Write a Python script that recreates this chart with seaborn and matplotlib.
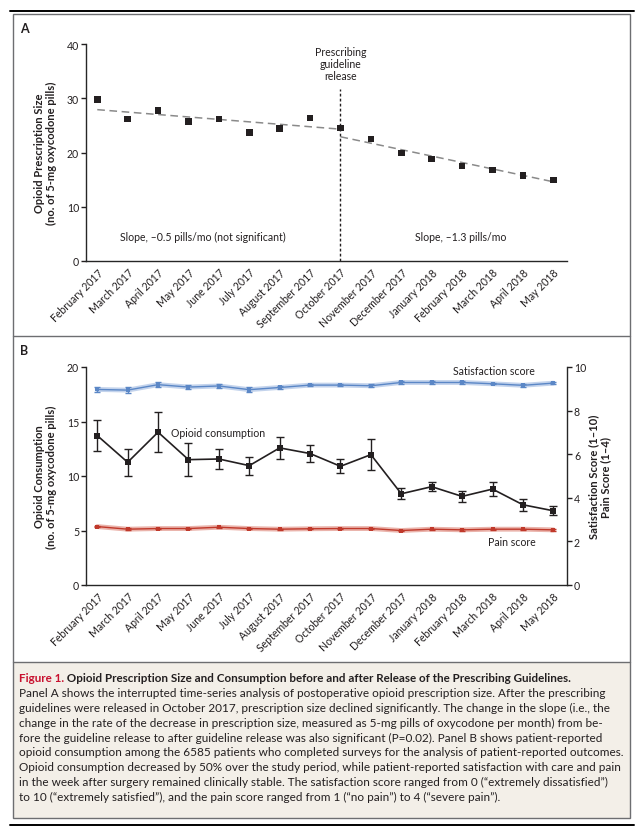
import numpy as np
import pandas as pd
import matplotlib
matplotlib.use("Agg")
import matplotlib.pyplot as plt
from matplotlib.patches import Rectangle
from matplotlib.lines import Line2D
import seaborn as sns

# ---------------- data ----------------
months = ["February 2017", "March 2017", "April 2017", "May 2017", "June 2017",
          "July 2017", "August 2017", "September 2017", "October 2017",
          "November 2017", "December 2017", "January 2018", "February 2018",
          "March 2018", "April 2018", "May 2018"]

prescription_size = [29.8, 26.2, 27.7, 25.7, 26.2, 23.7, 24.4, 26.4, 24.5,
                     22.5, 19.9, 18.8, 17.5, 16.8, 15.8, 14.9]
pre_trend_months = ["February 2017", "October 2017"]
pre_trend_values = [27.9, 24.3]
post_trend_months = ["October 2017", "May 2018"]
post_trend_values = [22.9, 14.6]

consumption = [13.71, 11.26, 14.02, 11.5, 11.56, 10.95, 12.58, 12.06, 10.89,
               11.96, 8.37, 9.02, 8.13, 8.8, 7.36, 6.81]
consumption_err = [1.44, 1.22, 1.84, 1.53, 0.89, 0.82, 1.0, 0.78, 0.64,
                   1.45, 0.52, 0.41, 0.5, 0.61, 0.57, 0.43]

satisfaction = [8.97, 8.94, 9.19, 9.08, 9.13, 8.96, 9.06, 9.17, 9.17, 9.14,
                9.29, 9.29, 9.29, 9.23, 9.16, 9.26]
satisfaction_err = [0.13, 0.14, 0.11, 0.09, 0.09, 0.1, 0.06, 0.05, 0.06,
                    0.08, 0.06, 0.05, 0.05, 0.03, 0.08, 0.05]

pain = [2.68, 2.56, 2.59, 2.59, 2.65, 2.59, 2.56, 2.58, 2.59, 2.59, 2.50,
        2.56, 2.53, 2.56, 2.56, 2.53]
pain_err = [0.04, 0.04, 0.03, 0.03, 0.03, 0.03, 0.03, 0.03, 0.03, 0.03, 0.03,
            0.03, 0.03, 0.03, 0.03, 0.03]

caption_title_red = "Figure 1."
caption_title = " Opioid Prescription Size and Consumption before and after Release of the Prescribing Guidelines."
caption_lines = [
    "Panel A shows the interrupted time-series analysis of postoperative opioid prescription size. After the prescribing",
    "guidelines were released in October 2017, prescription size declined significantly. The change in the slope (i.e., the",
    "change in the rate of the decrease in prescription size, measured as 5-mg pills of oxycodone per month) from be-",
    "fore the guideline release to after guideline release was also significant (P=0.02). Panel B shows patient-reported",
    "opioid consumption among the 6585 patients who completed surveys for the analysis of patient-reported outcomes.",
    "Opioid consumption decreased by 50% over the study period, while patient-reported satisfaction with care and pain",
    "in the week after surgery remained clinically stable. The satisfaction score ranged from 0 (\u201cextremely dissatisfied\u201d)",
    "to 10 (\u201cextremely satisfied\u201d), and the pain score ranged from 1 (\u201cno pain\u201d) to 4 (\u201csevere pain\u201d).",
]

# ---------------- style ----------------
sns.set_theme(style="ticks")
plt.rcParams["font.family"] = ["Lato", "DejaVu Sans"]
plt.rcParams["axes.linewidth"] = 1.0
plt.rcParams["xtick.major.size"] = 0
plt.rcParams["ytick.major.size"] = 3.5
plt.rcParams["ytick.major.width"] = 1.0
TXT = "#231f20"
plt.rcParams["text.color"] = TXT
plt.rcParams["axes.labelcolor"] = TXT
plt.rcParams["xtick.color"] = TXT
plt.rcParams["ytick.color"] = TXT

W, H = 643, 837
fig = plt.figure(figsize=(W / 100, H / 100), dpi=100)
fig.patch.set_facecolor("white")

def fx(x):
    return x / W

def fy(y):
    return 1 - y / H

# frames
BOX_L, BOX_R = 12.5, 630
BOX_T, BOX_B = 15, 819
fig.add_artist(Rectangle((fx(BOX_L), fy(BOX_B)), fx(BOX_R - BOX_L), (BOX_B - 663) / H,
                         transform=fig.transFigure, facecolor="#f3efe8",
                         edgecolor="none", zorder=0))
fig.add_artist(Rectangle((fx(BOX_L), fy(BOX_B)), fx(BOX_R - BOX_L), (BOX_B - BOX_T) / H,
                         transform=fig.transFigure, facecolor="none",
                         edgecolor="#6d6e71", lw=1.0, zorder=1))
for yy in (337, 663):
    fig.add_artist(Line2D([fx(BOX_L), fx(BOX_R)], [fy(yy), fy(yy)],
                          transform=fig.transFigure, color="#6d6e71", lw=1.0))
for yy in (12, 826):
    fig.add_artist(Line2D([fx(10), fx(634)], [fy(yy), fy(yy)],
                          transform=fig.transFigure, color="black", lw=1.4))

df = pd.DataFrame({"month": months, "idx": np.arange(len(months)),
                   "size": prescription_size, "cons": consumption,
                   "cons_err": consumption_err, "sat": satisfaction,
                   "sat_err": satisfaction_err, "pain": pain, "pain_err": pain_err})
idx_of = {m: i for i, m in enumerate(months)}

XL = (-0.37, 15.45)
TICK_FS = 7.6
LAB_FS = 8.0

def style_x(ax):
    ax.set_xlim(*XL)
    ax.set_xticks(df["idx"])
    ax.set_xticklabels(months, rotation=45, ha="right", rotation_mode="anchor",
                       fontsize=TICK_FS)
    ax.tick_params(axis="x", pad=4)
    ax.set_xlabel("")

# ---------------- Panel A ----------------
axA = fig.add_axes([fx(86), fy(262), fx(567 - 86), (262 - 45) / H])
axA.set_facecolor("none")
sns.scatterplot(data=df, x="idx", y="size", marker="s", s=22, color=TXT,
                edgecolor="none", ax=axA, zorder=3)
pre = pd.DataFrame({"idx": [idx_of[m] for m in pre_trend_months], "v": pre_trend_values})
post = pd.DataFrame({"idx": [idx_of[m] for m in post_trend_months], "v": post_trend_values})
for d in (pre, post):
    sns.lineplot(data=d, x="idx", y="v", color="#8a8a8a", lw=1.1,
                 linestyle=(0, (5, 3)), ax=axA)
oct_i = idx_of["October 2017"]
axA.plot([oct_i, oct_i], [0, 31.7], color=TXT, lw=1.0, linestyle=(0, (2, 1.6)))
axA.text(oct_i, 36.4, "Prescribing\nguideline\nrelease", ha="center", va="center",
         fontsize=7.6, linespacing=1.1)
axA.text(3.47, 4.6, "Slope, \u20130.5 pills/mo (not significant)", ha="center",
         va="center", fontsize=7.6)
axA.text(11.96, 4.6, "Slope, \u20131.3 pills/mo", ha="center", va="center",
         fontsize=7.6)
axA.set_ylim(0, 40)
axA.set_yticks([0, 10, 20, 30, 40])
axA.tick_params(axis="y", labelsize=TICK_FS, pad=1.5)
style_x(axA)
sns.despine(ax=axA)
axA.set_ylabel("Opioid Prescription Size\n(no. of 5-mg oxycodone pills)",
               fontsize=LAB_FS, fontweight="bold", linespacing=1.1)
axA.yaxis.set_label_coords((57 - 86) / 481, 0.5)
fig.text(fx(20), fy(29), "A", fontsize=9, fontweight="bold", va="center")

# ---------------- Panel B ----------------
axB = fig.add_axes([fx(86), fy(586), fx(567 - 86), (586 - 368) / H])
axB.set_facecolor("none")
axR = axB.twinx()
axR.set_facecolor("none")

BLUE, BLUE_L = "#5b87c6", "#c3d3ec"
RED, RED_L = "#c0392b", "#eab3ab"

# satisfaction (right axis)
sns.lineplot(data=df, x="idx", y="sat", color=BLUE_L, lw=3.5, ax=axR)
sns.lineplot(data=df, x="idx", y="sat", color=BLUE, lw=1.0, marker="s",
             markersize=2.5, markeredgewidth=0, ax=axR)
axR.errorbar(df["idx"], df["sat"], yerr=df["sat_err"], fmt="none", ecolor=BLUE,
             elinewidth=1.0, capsize=2.2, capthick=1.0)
# pain (right axis)
sns.lineplot(data=df, x="idx", y="pain", color=RED_L, lw=3.5, ax=axR)
sns.lineplot(data=df, x="idx", y="pain", color=RED, lw=1.0, marker="s",
             markersize=3.5, markeredgewidth=0, ax=axR)
axR.errorbar(df["idx"], df["pain"], yerr=df["pain_err"], fmt="none", ecolor=RED,
             elinewidth=1.0, capsize=2.2, capthick=1.0)
# consumption (left axis)
sns.lineplot(data=df, x="idx", y="cons", color=TXT, lw=1.2, marker="s",
             markersize=4.5, markeredgewidth=0, ax=axB, zorder=4)
axB.errorbar(df["idx"], df["cons"], yerr=df["cons_err"], fmt="none", ecolor=TXT,
             elinewidth=1.0, capsize=2.6, capthick=1.0, zorder=4)
axB.set_zorder(axR.get_zorder() + 1)

axB.set_ylim(0, 20)
axB.set_yticks([0, 5, 10, 15, 20])
axB.tick_params(axis="y", labelsize=TICK_FS, pad=1.5)
style_x(axB)
axR.set_xlim(*XL)
axR.set_ylim(0, 10)
axR.set_yticks([0, 2, 4, 6, 8, 10])
axR.tick_params(axis="y", labelsize=TICK_FS, pad=1.5)
axR.set_xlabel("")
for a in (axB, axR):
    a.spines["top"].set_visible(False)
axB.spines["right"].set_visible(False)
axR.spines["left"].set_visible(False)
axR.spines["bottom"].set_visible(False)

axB.text(2.44, 14.0, "Opioid consumption", ha="left", va="center", fontsize=7.6)
axB.text(13.04, 19.7, "Satisfaction score", ha="center", va="center", fontsize=7.6)
axB.text(13.65, 3.96, "Pain score", ha="center", va="center", fontsize=7.6)

axB.set_ylabel("Opioid Consumption\n(no. of 5-mg oxycodone pills)",
               fontsize=LAB_FS, fontweight="bold", linespacing=1.1)
axB.yaxis.set_label_coords((57 - 86) / 481, 0.5)
axR.set_ylabel("Satisfaction Score (1\u201310)\nPain Score (1\u20134)",
               fontsize=LAB_FS, fontweight="bold", linespacing=1.1, rotation=90)
axR.yaxis.set_label_coords((588 - 86) / 481, 0.5)
fig.text(fx(20), fy(351), "B", fontsize=9, fontweight="bold", va="center")

# ---------------- caption ----------------
t_red = fig.text(fx(19), fy(679), caption_title_red, color="#c8102e",
                 fontsize=8.35, fontweight="bold", va="center", ha="left")
fig.add_artist(plt.Annotation(caption_title, xy=(1, 0.5), xycoords=t_red,
                              va="center", ha="left", fontsize=8.35,
                              fontweight="bold", color=TXT,
                              annotation_clip=False))
for i, line in enumerate(caption_lines):
    fig.text(fx(19), fy(693.8 + i * 14.8), line, fontsize=8.5, va="center",
             ha="left", color=TXT)

fig.savefig("out.png", dpi=100)
